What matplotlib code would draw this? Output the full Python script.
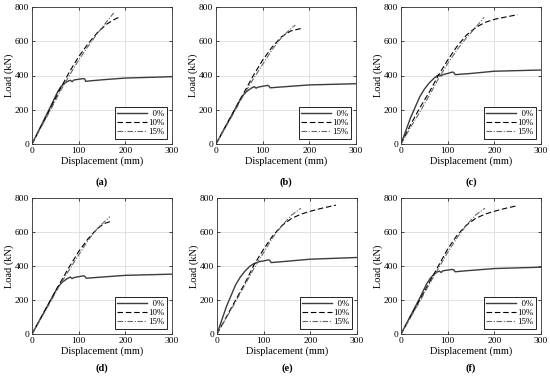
import matplotlib
matplotlib.use("Agg")
import matplotlib.pyplot as plt

plt.rcParams['font.family'] = ['Liberation Serif', 'DejaVu Serif']

# ---- panel (a)
a_x0 = [0, 20, 40, 55, 62, 70, 78, 82, 86, 90, 100, 110, 113, 115, 130, 160, 200, 250, 300]
a_y0 = [0, 110, 220, 305, 335, 355, 368, 372, 364, 374, 378, 382, 380, 366, 370, 377, 385, 389, 393]
a_x10 = [0, 20, 40, 60, 80, 100, 120, 140, 160, 175, 190]
a_y10 = [0, 105, 210, 320, 420, 510, 585, 650, 700, 725, 745]
a_x15 = [0, 20, 40, 60, 80, 100, 120, 140, 160, 175]
a_y15 = [0, 100, 200, 305, 400, 490, 570, 645, 715, 765]

# ---- panel (b)
b_x0 = [0, 20, 40, 55, 65, 75, 82, 86, 90, 100, 110, 113, 116, 140, 200, 300]
b_y0 = [0, 100, 200, 275, 305, 325, 335, 326, 332, 337, 342, 340, 328, 333, 345, 352]
b_x10 = [0, 20, 40, 60, 80, 100, 120, 140, 160, 183]
b_y10 = [0, 100, 200, 300, 400, 490, 565, 625, 660, 675]
b_x15 = [0, 20, 40, 60, 80, 100, 120, 140, 155, 170]
b_y15 = [0, 95, 190, 290, 380, 465, 550, 620, 660, 695]

# ---- panel (c)
c_x0 = [0, 20, 40, 50, 60, 70, 78, 82, 86, 90, 100, 110, 113, 116, 150, 200, 300]
c_y0 = [0, 150, 275, 320, 355, 382, 400, 405, 398, 405, 412, 420, 418, 405, 412, 425, 432]
c_x10 = [0, 20, 40, 60, 80, 100, 120, 140, 160, 180, 200, 225, 250]
c_y10 = [0, 110, 210, 300, 400, 490, 570, 635, 680, 710, 728, 742, 755]
c_x15 = [0, 20, 40, 60, 80, 100, 120, 140, 160, 178]
c_y15 = [0, 95, 185, 280, 380, 470, 550, 620, 680, 740]

# ---- panel (d)
d_x0 = [0, 20, 40, 55, 65, 75, 82, 86, 90, 100, 110, 113, 116, 140, 200, 300]
d_y0 = [0, 100, 200, 275, 305, 325, 335, 326, 332, 337, 342, 340, 328, 333, 345, 352]
d_x10 = [0, 20, 40, 60, 80, 100, 120, 140, 155, 172]
d_y10 = [0, 100, 200, 300, 395, 485, 560, 620, 650, 665]
d_x15 = [0, 20, 40, 60, 80, 100, 120, 140, 155, 167]
d_y15 = [0, 95, 190, 290, 378, 465, 550, 620, 660, 690]

# ---- panel (e)
e_x0 = [0, 20, 40, 50, 60, 70, 80, 90, 100, 110, 113, 116, 150, 200, 300]
e_y0 = [0, 160, 290, 335, 370, 398, 415, 425, 430, 436, 434, 420, 428, 440, 450]
e_x10 = [0, 20, 40, 60, 80, 100, 120, 140, 160, 180, 200, 225, 255]
e_y10 = [0, 100, 200, 300, 410, 500, 580, 640, 680, 705, 722, 740, 758]
e_x15 = [0, 20, 40, 60, 80, 100, 120, 140, 160, 180]
e_y15 = [0, 95, 190, 290, 390, 480, 570, 640, 700, 740]

# ---- panel (f)
f_x0 = [0, 20, 40, 55, 62, 70, 78, 82, 86, 90, 100, 110, 113, 116, 140, 200, 300]
f_y0 = [0, 105, 210, 295, 325, 350, 365, 370, 362, 372, 376, 380, 378, 366, 372, 385, 393]
f_x10 = [0, 20, 40, 60, 80, 100, 120, 140, 160, 180, 200, 225, 250]
f_y10 = [0, 100, 200, 300, 400, 500, 580, 640, 680, 705, 722, 740, 755]
f_x15 = [0, 20, 40, 60, 80, 100, 120, 140, 160, 180]
f_y15 = [0, 95, 190, 290, 385, 480, 565, 640, 700, 740]

# two spaces ~ one digit width, keeps labels right-aligned like the original
series_labels = ['  0%', '10%', '15%']
panel_names = ['(a)', '(b)', '(c)', '(d)', '(e)', '(f)']
x_ticks = [0, 100, 200, 300]
y_ticks = [0, 200, 400, 600, 800]

panels = [
    (a_x0, a_y0, a_x10, a_y10, a_x15, a_y15),
    (b_x0, b_y0, b_x10, b_y10, b_x15, b_y15),
    (c_x0, c_y0, c_x10, c_y10, c_x15, c_y15),
    (d_x0, d_y0, d_x10, d_y10, d_x15, d_y15),
    (e_x0, e_y0, e_x10, e_y10, e_x15, e_y15),
    (f_x0, f_y0, f_x10, f_y10, f_x15, f_y15),
]

W, H = 550, 377
fig = plt.figure(figsize=(W / 100, H / 100), dpi=100)

# axes boxes in pixels: left, top, right, bottom
boxes = [(32, 7, 172, 144), (216, 7, 356, 144), (401, 7, 541, 144),
         (32, 198, 172, 334), (217, 198, 357, 334), (401, 198, 541, 334)]
letter_y = [182, 182, 182, 368, 368, 368]

for i, (p, box) in enumerate(zip(panels, boxes)):
    l, t, r, b = box
    ax = fig.add_axes([l / W, 1 - b / H, (r - l) / W, (b - t) / H])
    x0, y0, x10, y10, x15, y15 = p
    ax.plot(x0, y0, color='#3c3c3c', lw=1.0, label=series_labels[0])
    ax.plot(x10, y10, color='black', lw=0.8, linestyle=(0, (5, 2.5)), label=series_labels[1])
    ax.plot(x15, y15, color='#666666', lw=0.8, linestyle=(0, (5, 1.5, 1, 1.5)), label=series_labels[2])
    ax.set_xlim(0, 300)
    ax.set_ylim(0, 800)
    ax.set_xticks(x_ticks)
    ax.set_yticks(y_ticks)
    ax.grid(True, color='#dddddd', lw=0.6)
    ax.tick_params(direction='in', length=2, width=0.5, labelsize=6.8, pad=2,
                   top=True, right=True)
    for s in ax.spines.values():
        s.set_linewidth(0.6)
        s.set_color('#333333')
    ax.set_xlabel('Displacement (mm)', fontsize=7.5, labelpad=1)
    ax.set_ylabel('Load (kN)', fontsize=7.5, labelpad=1)
    leg = ax.legend(loc='lower right', fontsize=6.3, frameon=True, fancybox=False,
                    edgecolor='black', framealpha=1, handlelength=3.4,
                    handletextpad=0.1, labelspacing=0.12, borderpad=0.3,
                    borderaxespad=0.6)
    leg.get_frame().set_linewidth(0.6)
    fig.text((l + r) / 2 / W, 1 - letter_y[i] / H, panel_names[i],
             ha='center', va='center', fontsize=7.5, fontweight='bold')

fig.savefig('out.png', dpi=100)
